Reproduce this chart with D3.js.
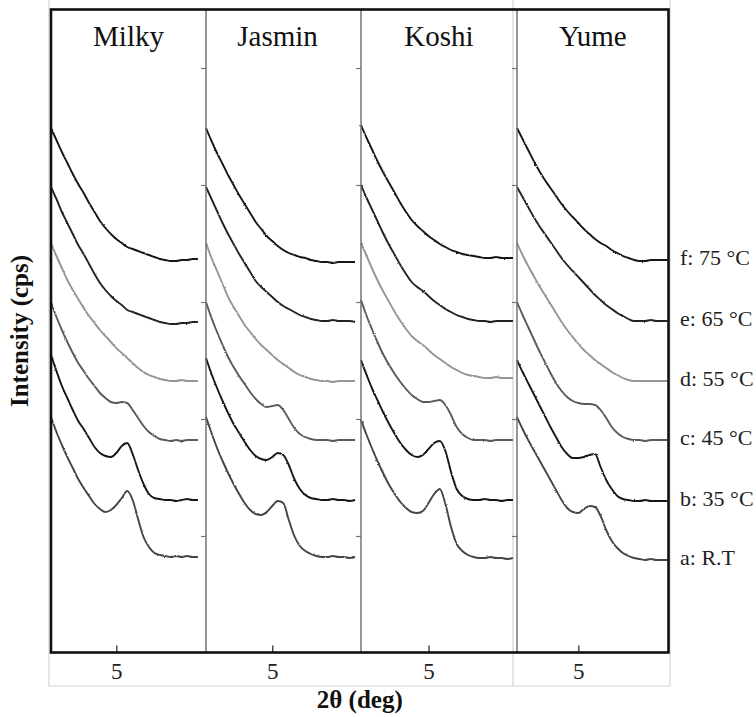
<!DOCTYPE html>
<html>
<head>
<meta charset="utf-8">
<script src="https://cdn.jsdelivr.net/npm/d3@7"></script>
<style>
  body { margin: 0; background: #fff; }
  svg { display: block; }
  text { font-family: "Liberation Serif", "Times New Roman", serif; }
</style>
</head>
<body>
<svg id="chart" width="756" height="717"></svg>
<script>
// Samples (one panel each) and heating steps (one trace per step)
const samples = ["Milky", "Jasmin", "Koshi", "Yume"];
const stepLabels = ["a: R.T", "b: 35 °C", "c: 45 °C", "d: 55 °C", "e: 65 °C", "f: 75 °C"];

// 2θ sampling of the scans (deg)
const twoThetaStd = [2.00, 2.25, 2.50, 2.75, 3.00, 3.25, 3.50, 3.75, 4.00, 4.25, 4.50, 4.75, 5.00, 5.25,
                     5.50, 5.75, 6.00, 6.25, 6.50, 6.75, 7.00, 7.25, 7.50, 7.75, 8.00, 8.25, 8.50, 8.75];
const twoThetaYume = [2.25, 2.50, 2.75, 3.00, 3.25, 3.50, 3.75, 4.00, 4.25, 4.50, 4.75, 5.00, 5.25, 5.50,
                      5.75, 6.00, 6.25, 6.50, 6.75, 7.00, 7.25, 7.50, 7.75, 8.00, 8.25, 8.50, 8.75, 9.00];

// Axis ranges and ticks
const xDomains = [[2, 9.12], [2, 9.02], [2, 8.93], [2.25, 9.045]];
const xTickValues = [5];
const intensityDomain = [0, 644];
const yTickValues = [117, 234, 351, 468, 585];

// Stacked intensities (arb. offset per step), rows a..f
const milky = [
  [236, 221, 208, 196, 185, 174, 165, 157, 149, 144, 141, 143, 148, 155, 162, 153, 134, 116, 106, 100, 98, 97, 96, 97, 96, 97, 96, 96],
  [298, 282, 267, 255, 243, 232, 224, 215, 206, 200, 197, 196, 200, 207, 210, 199, 183, 169, 159, 155, 154, 153, 153, 152, 153, 154, 153, 153],
  [351, 336, 323, 311, 300, 290, 282, 274, 267, 260, 255, 251, 250, 251, 250, 243, 235, 227, 221, 217, 214, 213, 212, 213, 212, 213, 213, 213],
  [410, 397, 385, 373, 363, 354, 345, 337, 330, 323, 317, 311, 305, 300, 295, 290, 285, 281, 278, 276, 274, 273, 272, 272, 273, 272, 272, 272],
  [466, 454, 441, 430, 419, 408, 399, 389, 379, 370, 363, 357, 352, 348, 343, 341, 339, 337, 335, 333, 331, 330, 329, 329, 330, 330, 331, 331],
  [525, 513, 501, 490, 479, 469, 460, 450, 441, 432, 425, 419, 414, 410, 406, 404, 402, 400, 398, 396, 394, 393, 392, 392, 393, 393, 394, 394]
];
const jasmin = [
  [236, 220, 205, 192, 180, 169, 159, 150, 143, 139, 138, 141, 147, 152, 150, 133, 117, 107, 102, 99, 97, 96, 96, 97, 96, 96, 95, 96],
  [295, 279, 265, 252, 240, 229, 220, 211, 203, 197, 194, 193, 196, 200, 198, 188, 174, 164, 158, 155, 154, 153, 153, 154, 153, 153, 152, 153],
  [351, 335, 321, 308, 296, 286, 277, 269, 261, 254, 249, 246, 247, 248, 243, 234, 225, 219, 216, 214, 213, 213, 213, 212, 213, 213, 213, 213],
  [410, 395, 382, 369, 356, 346, 337, 328, 321, 314, 308, 303, 298, 293, 289, 285, 281, 278, 276, 274, 273, 272, 272, 271, 272, 272, 272, 272],
  [466, 454, 442, 430, 419, 409, 399, 390, 381, 372, 366, 361, 356, 351, 347, 344, 341, 338, 336, 334, 333, 332, 332, 333, 332, 332, 332, 331],
  [525, 512, 500, 489, 478, 468, 458, 449, 440, 431, 424, 417, 412, 407, 403, 400, 398, 396, 395, 393, 392, 391, 391, 390, 391, 391, 391, 391]
];
const koshi = [
  [233, 218, 204, 191, 179, 168, 159, 151, 145, 141, 140, 142, 150, 159, 164, 149, 126, 109, 102, 98, 96, 95, 95, 96, 95, 95, 94, 95],
  [293, 278, 264, 252, 240, 229, 219, 210, 203, 198, 196, 198, 204, 210, 212, 202, 181, 164, 157, 154, 153, 153, 154, 153, 153, 152, 153, 153],
  [353, 337, 323, 310, 298, 288, 279, 271, 264, 258, 254, 251, 251, 252, 253, 248, 238, 226, 219, 215, 213, 213, 213, 212, 213, 213, 213, 213],
  [410, 397, 384, 372, 361, 351, 341, 332, 324, 317, 312, 308, 303, 298, 294, 290, 286, 283, 280, 278, 277, 276, 275, 275, 276, 275, 275, 275],
  [468, 455, 443, 431, 419, 408, 398, 388, 379, 371, 366, 362, 357, 352, 348, 344, 341, 338, 336, 334, 333, 332, 332, 331, 332, 332, 332, 332],
  [528, 515, 503, 491, 480, 470, 460, 450, 441, 433, 427, 422, 417, 413, 409, 406, 403, 401, 399, 398, 397, 396, 395, 395, 396, 395, 395, 395]
];
const yume = [
  [236, 224, 213, 203, 193, 183, 173, 163, 153, 145, 141, 140, 144, 147, 146, 137, 123, 112, 105, 100, 97, 95, 94, 93, 94, 93, 93, 93],
  [293, 281, 270, 259, 248, 237, 226, 216, 206, 199, 195, 195, 196, 198, 199, 186, 173, 164, 157, 154, 153, 152, 152, 153, 152, 152, 152, 152],
  [351, 338, 326, 314, 302, 291, 280, 270, 262, 256, 252, 250, 249, 249, 248, 243, 235, 226, 220, 216, 214, 213, 213, 212, 213, 213, 213, 213],
  [410, 398, 387, 377, 367, 358, 349, 340, 331, 323, 316, 309, 303, 298, 293, 289, 285, 281, 278, 275, 273, 272, 272, 272, 272, 272, 272, 272],
  [466, 456, 446, 436, 427, 419, 411, 403, 395, 388, 382, 376, 370, 364, 358, 353, 348, 344, 340, 337, 334, 332, 332, 332, 333, 332, 332, 332],
  [525, 514, 503, 492, 482, 473, 465, 457, 449, 442, 436, 430, 424, 419, 414, 410, 407, 403, 400, 397, 395, 393, 392, 392, 393, 393, 393, 393]
];

const panelSeries = [milky, jasmin, koshi, yume];
const panelGrids = [twoThetaStd, twoThetaStd, twoThetaStd, twoThetaYume];

// ---- layout ----
const svg = d3.select("#chart");
const frameTop = 9.5, frameBottom = 652.5;
const panelEdges = [51, 206, 361, 517, 668.5];
const traceColors = ["#444444", "#181818", "#5a5a5a", "#959595", "#222222", "#161616"];
const titleShift = [0, -6, 0, 0];

// fine counting-noise texture on the traces
const defs = svg.append("defs");
const grain = defs.append("filter").attr("id", "grain")
  .attr("x", "-5%").attr("y", "-5%").attr("width", "110%").attr("height", "110%");
grain.append("feTurbulence").attr("type", "fractalNoise").attr("baseFrequency", 0.9)
  .attr("numOctaves", 1).attr("seed", 4).attr("result", "n");
grain.append("feDisplacementMap").attr("in", "SourceGraphic").attr("in2", "n")
  .attr("scale", 2.2).attr("xChannelSelector", "R").attr("yChannelSelector", "G");

const y = d3.scaleLinear().domain(intensityDomain).range([653, 9]);

// light guide frame around the panel strip and tick-label band
const guide = svg.append("g").attr("stroke", "#d4d4d4").attr("stroke-width", 1.2).attr("fill", "none");
[49, 513, 670].forEach(gx => guide.append("line").attr("x1", gx).attr("x2", gx).attr("y1", 0).attr("y2", 686));
guide.append("line").attr("x1", 49).attr("x2", 670).attr("y1", 686).attr("y2", 686);

samples.forEach((name, p) => {
  const x = d3.scaleLinear().domain(xDomains[p]).range([panelEdges[p], panelEdges[p + 1]]);
  const grid = panelGrids[p];
  const g = svg.append("g");

  const line = d3.line()
    .x((d, i) => x(grid[i]))
    .y(d => y(d))
    .curve(d3.curveMonotoneX);

  const traces = g.append("g").attr("filter", "url(#grain)");
  panelSeries[p].forEach((series, s) => {
    traces.append("path")
      .datum(series)
      .attr("d", line)
      .attr("fill", "none")
      .attr("stroke", traceColors[s])
      .attr("stroke-width", 1.9)
      .attr("stroke-linejoin", "round");
  });

  // panel title
  g.append("text")
    .attr("x", (panelEdges[p] + panelEdges[p + 1]) / 2 + titleShift[p])
    .attr("y", 46)
    .attr("text-anchor", "middle")
    .attr("font-size", 29)
    .attr("fill", "#111")
    .text(name);

  // bottom 2θ axis with inward tick
  const xAxis = g.append("g")
    .attr("transform", `translate(0,${frameBottom})`)
    .call(d3.axisBottom(x).tickValues(xTickValues).tickSizeInner(-7).tickSizeOuter(0).tickPadding(10).tickFormat(d3.format("d")));
  xAxis.select(".domain").remove();
  xAxis.selectAll(".tick line").attr("stroke", "#333").attr("stroke-width", 1.3);
  xAxis.selectAll(".tick text").attr("font-size", 23).attr("fill", "#222")
    .style("font-family", '"Liberation Serif", serif');

  // intensity ticks on the panel's left edge
  if (p > 0) {
    const yAxis = g.append("g")
      .attr("transform", `translate(${panelEdges[p]},0)`)
      .call(d3.axisLeft(y).tickValues(yTickValues).tickSize(5).tickFormat(""));
    yAxis.select(".domain").remove();
    yAxis.selectAll(".tick line").attr("stroke", "#777").attr("stroke-width", 1.2);

    svg.append("line")
      .attr("x1", panelEdges[p]).attr("x2", panelEdges[p])
      .attr("y1", frameTop).attr("y2", frameBottom)
      .attr("stroke", "#6a6a6a").attr("stroke-width", 1.4);
  }

  // step labels beside the last panel
  if (p === samples.length - 1) {
    panelSeries[p].forEach((series, s) => {
      svg.append("text")
        .attr("x", 680)
        .attr("y", y(series[series.length - 1]) + 5)
        .attr("font-size", 22)
        .attr("fill", "#222")
        .text(stepLabels[s]);
    });
  }
});

// outer frame
svg.append("rect")
  .attr("x", panelEdges[0]).attr("y", frameTop)
  .attr("width", panelEdges[4] - panelEdges[0]).attr("height", frameBottom - frameTop)
  .attr("fill", "none").attr("stroke", "#111").attr("stroke-width", 2.6);

// axis titles
svg.append("text")
  .attr("transform", `translate(28,${(frameTop + frameBottom) / 2}) rotate(-90)`)
  .attr("text-anchor", "middle")
  .attr("font-size", 25)
  .attr("font-weight", "bold")
  .attr("fill", "#111")
  .text("Intensity (cps)");

svg.append("text")
  .attr("x", (panelEdges[0] + panelEdges[4]) / 2)
  .attr("y", 708)
  .attr("text-anchor", "middle")
  .attr("font-size", 25)
  .attr("font-weight", "bold")
  .attr("fill", "#111")
  .text("2θ (deg)");
</script>
</body>
</html>
